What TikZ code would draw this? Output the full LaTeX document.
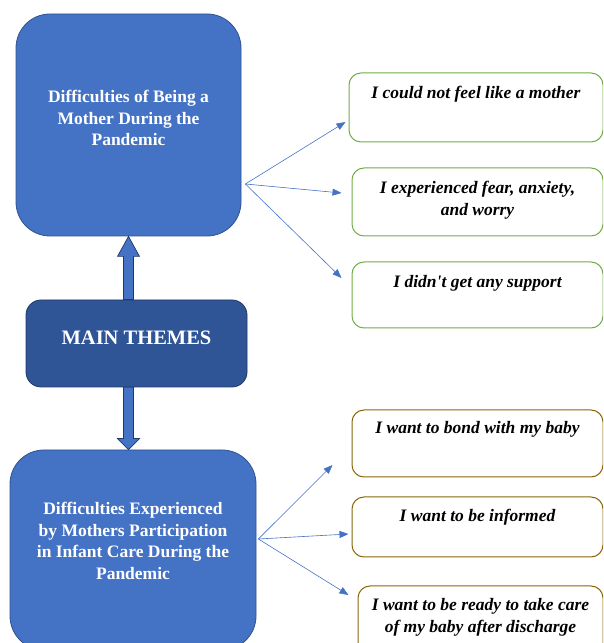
\documentclass[tikz,border=0pt]{standalone}
\usepackage{fontspec}
\setmainfont{Liberation Serif}
\usetikzlibrary{positioning,calc,arrows.meta}
\definecolor{themeblue}{HTML}{4472C4}
\definecolor{themeedge}{HTML}{2F528F}
\definecolor{maindark}{HTML}{2F5597}
\definecolor{mainedge}{HTML}{1F3864}
\definecolor{quotegreen}{HTML}{70AD47}
\definecolor{quotebrown}{HTML}{8B6508}
\tikzset{
  theme/.style={draw=themeedge, fill=themeblue, line width=0.8pt, rounded corners=34pt},
  mainbox/.style={draw=mainedge, fill=maindark, line width=0.8pt, rounded corners=15pt},
  titletext/.style={text=white, font=\fontsize{17.5}{21.5}\selectfont\bfseries, align=center, inner sep=0pt},
  quotebox/.style={fill=white, line width=1pt, rounded corners=12pt},
  quotetext/.style={font=\fontsize{17.5}{22}\selectfont\bfseries\itshape, align=center, inner sep=0pt},
  fan/.style={draw=themeblue, line width=0.6pt, -{Triangle[length=9pt,width=7pt]}},
  blockarrow/.style={draw=mainedge, fill=themeblue, line width=0.7pt, line join=miter}
}
\begin{document}
\begin{tikzpicture}[x=1pt, y=1pt]
  \useasboundingbox (0,0) rectangle (603,643);
  \clip (0,0) rectangle (603,643);
  % themes on the left
  \node[theme, minimum width=225pt, minimum height=222pt] (top) at (128.5,518) {};
  \node[titletext] (toptext) at ([yshift=7pt]top.center) {Difficulties of Being a\\Mother During the\\Pandemic};
  \node[mainbox, minimum width=221pt, minimum height=87pt] (main) at (136.5,299.5) {};
  \node[text=white, font=\fontsize{20.5}{24}\selectfont\bfseries, inner sep=0pt] (maintext) at ([yshift=6pt]main.center) {MAIN THEMES};
  \node[theme, minimum width=246pt, minimum height=200pt] (bottom) at (133,93) {};
  \node[titletext] (bottomtext) at (133,102) {Difficulties Experienced\\by Mothers Participation\\in Infant Care During the\\Pandemic};

  % block arrows
  \draw[blockarrow] ($(top.south |- main.north)+(-5,0)$) -- ($(top.south)+(-5,-20)$)
    -- ($(top.south)+(-11,-20)$) -- (top.south) -- ($(top.south)+(11,-20)$)
    -- ($(top.south)+(5,-20)$) -- ($(top.south |- main.north)+(5,0)$) -- cycle;
  \draw[blockarrow] ($(top.south |- main.south)+(-5,0)$) -- ($(top.south |- bottom.north)+(-5,11)$)
    -- ($(top.south |- bottom.north)+(-11,11)$) -- (top.south |- bottom.north)
    -- ($(top.south |- bottom.north)+(11,11)$) -- ($(top.south |- bottom.north)+(5,11)$)
    -- ($(top.south |- main.south)+(5,0)$) -- cycle;

  % first theme: green quotes
  \node[quotebox, draw=quotegreen, minimum width=254pt, minimum height=69pt] (g1) at (476,535.5) {};
  \node[quotetext, below=13pt of g1.north] (g1text) {I could not feel like a mother};
  \node[quotebox, draw=quotegreen, minimum width=251pt, minimum height=68pt] (g2) at (477.5,441) {};
  \node[quotetext, below=13pt of g2.north] (g2text) {I experienced fear, anxiety,\\and worry};
  \node[quotebox, draw=quotegreen, minimum width=251pt, minimum height=66pt] (g3) at (477.5,348) {};
  \node[quotetext, below=14pt of g3.north] (g3text) {I didn\textquotesingle t get any support};

  % second theme: brown quotes
  \node[quotebox, draw=quotebrown, minimum width=251pt, minimum height=67pt] (b4) at (477.5,199.5) {};
  \node[quotetext, below=12pt of b4.north] (b4text) {I want to bond with my baby};
  \node[quotebox, draw=quotebrown, minimum width=251pt, minimum height=60pt] (b5) at (477.5,116) {};
  \node[quotetext, below=12pt of b5.north] (b5text) {I want to be informed};
  \node[quotebox, draw=quotebrown, minimum width=245pt, minimum height=74pt] (b6) at (480.5,20) {};
  \node[quotetext, below=13pt of b6.north] (b6text) {I want to be ready to take care\\of my baby after discharge};

  % fans
  \coordinate (topfan) at ([xshift=4pt,yshift=-59pt]top.east);
  \coordinate (bottomfan) at ([xshift=2pt,yshift=11pt]bottom.east);
  \draw[fan] (topfan) -- ([xshift=-3pt,yshift=-14.5pt]g1.west);
  \draw[fan] (topfan) -- ([xshift=-10pt,yshift=9pt]g2.west);
  \draw[fan] (topfan) -- ([xshift=-10pt,yshift=17pt]g3.west);
  \draw[fan] (bottomfan) -- ([xshift=-19pt,yshift=-21.5pt]b4.west);
  \draw[fan] (bottomfan) -- ([xshift=-3pt,yshift=-7pt]b5.west);
  \draw[fan] (bottomfan) -- ([xshift=-9pt,yshift=28pt]b6.west);
\end{tikzpicture}
\end{document}
